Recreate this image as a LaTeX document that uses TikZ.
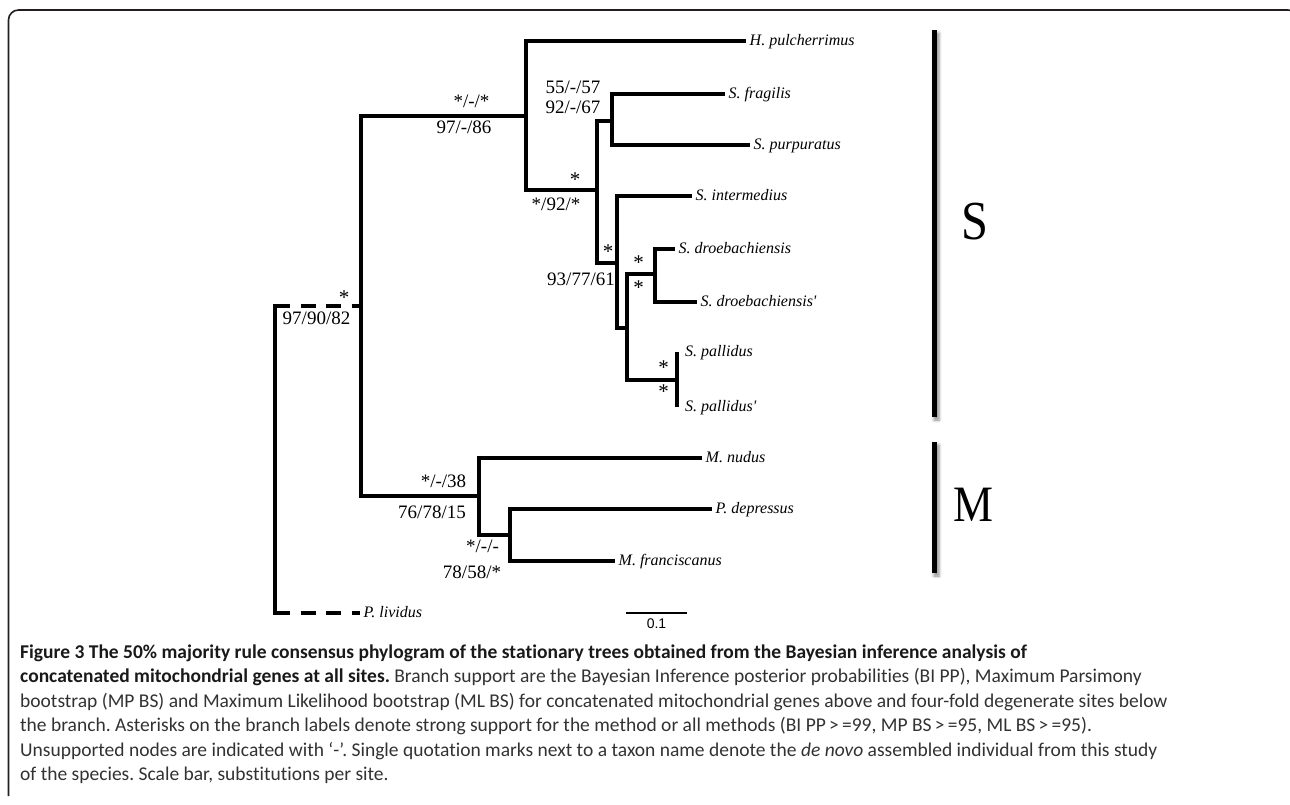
\documentclass[tikz,border=0pt]{standalone}
\usepackage{fontspec}
\setmainfont{Liberation Serif}
\newfontfamily\capfont{Carlito}[Ligatures={CommonOff}]
\newfontfamily\sansf{Liberation Sans}
\font\spit="Liberation Serif/I" at 16pt
\usetikzlibrary{shadows.blur}
\definecolor{framec}{RGB}{35,31,32}
\definecolor{capbody}{RGB}{50,50,50}
\definecolor{captitle}{RGB}{25,25,25}
\frenchspacing
\begin{document}
\begin{tikzpicture}[x=1pt,y=-1pt,
  br/.style={line width=3.9pt, black},
  dsh/.style={br, dash pattern=on 15pt off 10.5pt},
  sp/.style={anchor=base west, inner sep=0pt, font=\spit, xshift=3.5pt, yshift=-4.8pt},
  sup/.style={anchor=base, inner sep=0pt, font=\fontsize{19}{20}\selectfont},
  ast/.style={anchor=base, inner sep=0pt, font=\fontsize{21}{22}\selectfont},
  captxt/.style={anchor=base west, inner sep=0pt, text=capbody, font=\capfont\fontsize{19.5}{24}\selectfont},
  grp/.style={fill=black, inner sep=0pt, minimum width=5pt, blur shadow={shadow xshift=2.5pt, shadow yshift=-3pt, shadow blur radius=3pt, shadow opacity=45}},
  big/.style={inner sep=0pt, font=\fontsize{55}{60}\selectfont}
]
\useasboundingbox (0,0) rectangle (1290,804);
% frame
\draw[framec, line width=1.6pt, rounded corners=10pt] (8.5,796) -- (8.5,10) -- (1298,10) -- (1298,700);

% internal nodes
\coordinate (R) at (275,306);
\coordinate (A) at (361,306);
\coordinate (Sn) at (526,116);
\coordinate (B) at (597,190);
\coordinate (C) at (612,121);
\coordinate (D) at (617,263);
\coordinate (E) at (627,328);
\coordinate (F) at (655,274);
\coordinate (G) at (677,380);
\coordinate (Mn) at (479,496);
\coordinate (H) at (510,535);
% leaves
\coordinate (hpul) at (746,41);
\coordinate (sfra) at (725,94);
\coordinate (spur) at (750,145);
\coordinate (sint) at (692,196);
\coordinate (sdro) at (675,249);
\coordinate (sdrob) at (697,302);
\coordinate (spal) at (677,352);
\coordinate (spalb) at (677,407);
\coordinate (mnud) at (702,458);
\coordinate (pdep) at (712,509);
\coordinate (mfra) at (615,561);
\coordinate (pliv) at (360,613);

% branches
\draw[dsh] (R) -- (A);
\draw[br, line cap=rect] (R) -- (R |- pliv);
\draw[dsh] (R |- pliv) -- (pliv);
\draw[br] (A) |- (Sn);
\draw[br] (A) |- (Mn);
\draw[br] (Sn) |- (hpul);
\draw[br] (Sn) |- (B);
\draw[br] (B) |- (C);
\draw[br] (B) |- (D);
\draw[br] (C) |- (sfra);
\draw[br] (C) |- (spur);
\draw[br] (D) |- (sint);
\draw[br] (D) |- (E);
\draw[br] (E) |- (F);
\draw[br] (E) |- (G);
\draw[br] (F) |- (sdro);
\draw[br] (F) |- (sdrob);
\draw[br] (G) -- (spal);
\draw[br] (G) -- (spalb);
\draw[br] (Mn) |- (mnud);
\draw[br] (Mn) |- (H);
\draw[br] (H) |- (pdep);
\draw[br] (H) |- (mfra);

% taxon labels
\node[sp] (Lhpul) at (hpul) {H. pulcherrimus};
\node[sp] (Lsfra) at (sfra) {S. fragilis};
\node[sp] (Lspur) at (spur) {S. purpuratus};
\node[sp] (Lsint) at (sint) {S. intermedius};
\node[sp] (Lsdro) at (sdro) {S. droebachiensis};
\node[sp] (Lsdrob) at (sdrob) {S. droebachiensis'};
\node[sp, xshift=4.5pt] (Lspal) at (spal) {S. pallidus};
\node[sp, xshift=4.5pt] (Lspalb) at (spalb) {S. pallidus'};
\node[sp] (Lmnud) at (mnud) {M. nudus};
\node[sp] (Lpdep) at (pdep) {P. depressus};
\node[sp] (Lmfra) at (mfra) {M. franciscanus};
\node[sp] (Lpliv) at (pliv) {P. lividus};

% support values
\node[sup] (s1) at (471.5,107) {*/-/*};
\node[sup] (s2) at (464,133) {97/-/86};
\node[sup] (s3) at (573,93) {55/-/57};
\node[sup] (s4) at (573,113) {92/-/67};
\node[ast] (s5) at (575,186) {*};
\node[sup] (s6) at (556,210) {*/92/*};
\node[ast] (s7) at (344,304.5) {*};
\node[sup] (s8) at (316.5,324) {97/90/82};
\node[ast] (s9) at (608,258) {*};
\node[sup] (s10) at (581,285) {93/77/61};
\node[ast] (s11) at (638.5,269) {*};
\node[ast] (s12) at (638.5,294) {*};
\node[ast] (s13) at (663.5,374) {*};
\node[ast] (s14) at (663.5,398) {*};
\node[sup] (s15) at (443.5,487) {*/-/38};
\node[sup] (s16) at (432,518) {76/78/15};
\node[sup] (s17) at (482.5,552) {*/-/-};
\node[sup] (s18) at (472,578) {78/58/*};

% group bars
\node[grp, minimum height=387pt] (barS) at (934,223.5) {};
\node[grp, minimum height=131pt] (barM) at (934,507.5) {};
\node[big] (labS) at (975,222) {\scalebox{0.88}[1]{S}};
\node[big, font=\fontsize{51}{56}\selectfont] (labM) at (973.5,505) {\scalebox{0.88}[1]{M}};

% scale bar
\coordinate (sb1) at (626,613);
\coordinate (sb2) at (687,613);
\draw[line width=2.4pt] (sb1) -- (sb2);
\node[anchor=base, inner sep=0pt, font=\sansf\fontsize{14}{16}\selectfont] (sbl) at (656.5,628) {0.1};

% caption
\node[captxt, text=captitle] (c1) at (20,658) {\bfseries Figure 3 The 50\% majority rule consensus phylogram of the stationary trees obtained from the Bayesian inference analysis of};
\node[captxt] (c2) at (20,682.5) {\textcolor{captitle}{\bfseries concatenated mitochondrial genes at all sites.} Branch support are the Bayesian Inference posterior probabilities (BI PP), Maximum Parsimony};
\node[captxt] (c3) at (20,707) {bootstrap (MP BS) and Maximum Likelihood bootstrap (ML BS) for concatenated mitochondrial genes above and four-fold degenerate sites below};
\node[captxt] (c4) at (20,731.5) {the branch. Asterisks on the branch labels denote strong support for the method or all methods (BI PP\,>\,=99, MP BS\,>\,=95, ML BS\,>\,=95).};
\node[captxt] (c5) at (20,756) {Unsupported nodes are indicated with ‘-’. Single quotation marks next to a taxon name denote the \textit{de novo} assembled individual from this study};
\node[captxt] (c6) at (20,780.5) {of the species. Scale bar, substitutions per site.};
\end{tikzpicture}
\end{document}
